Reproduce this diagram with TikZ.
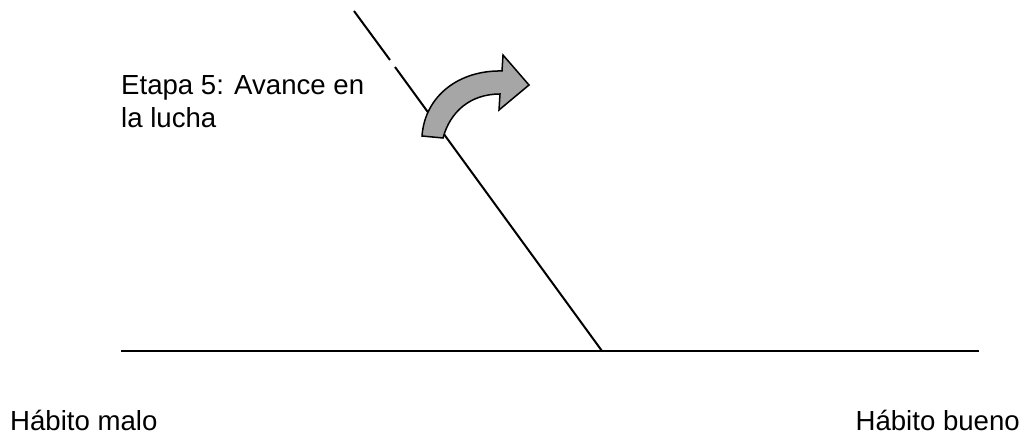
\documentclass[tikz,border=0pt]{standalone}
\usepackage{fontspec}
\setmainfont{Liberation Sans}
\usepackage{xcolor}
\usetikzlibrary{positioning}
\definecolor{arrowgray}{HTML}{A6A6A6}

\begin{document}
\begin{tikzpicture}[x=1pt, y=-1pt,
		label/.style={inner sep=0pt, font=\fontsize{27.6}{33}\selectfont},
		habitline/.style={line width=2pt, black}]
	\useasboundingbox (0,0) rectangle (1031,433);

	% Axis
	\coordinate (malo) at (121,351);
	\coordinate (pivot) at (602,351);
	\coordinate (bueno) at (979,351);
	\draw[habitline] (malo) -- (bueno);

	% Slanted line (with small gap)
	\coordinate (top) at (354,11);
	\coordinate (gapa) at (390,60);
	\coordinate (gapb) at (395,67);
	\draw[habitline] (top) -- (gapa);
	\draw[habitline] (gapb) -- (pivot);

	% Labels
	\node[label, anchor=base west, align=left] (etapa) at (121,128) {Etapa 5: Avance en\\la lucha};
	\node[label, anchor=base west] (hmalo) at (10,430) {Hábito malo};
	\node[label, anchor=base east] (hbueno) at (1020,430) {Hábito bueno};

	% Curved arrow
	\draw[line width=1.5pt, fill=arrowgray, line join=miter]
		(422,136) .. controls (425,95) and (460,70) .. (502,71)
		-- (503,55) -- (529,85) -- (499,110) -- (500,94)
		.. controls (470,94) and (450,112) .. (443,138) -- cycle;
\end{tikzpicture}
\end{document}
